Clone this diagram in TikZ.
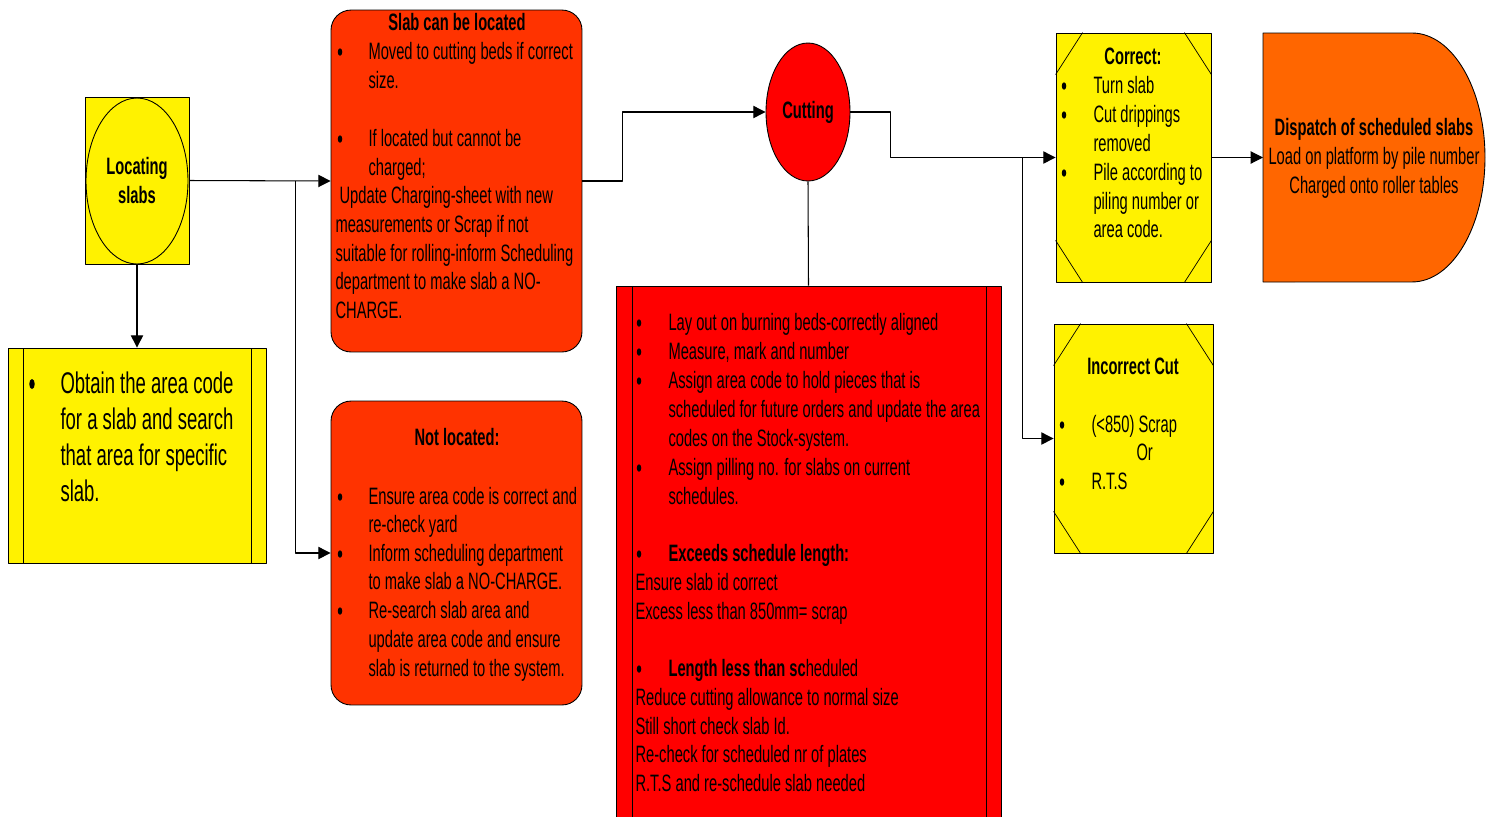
\documentclass[tikz,border=0pt]{standalone}
\usepackage{fontspec}
\setmainfont{Liberation Sans}[FakeStretch=0.62]
\usetikzlibrary{arrows.meta,shapes.geometric}
\newcommand\bodyfs{\fontsize{13.5}{16.5}\selectfont}
\newcommand\bigfs{\fontsize{17}{20.5}\selectfont}
\definecolor{slabred}{HTML}{FF3300}
\definecolor{disporange}{HTML}{FF6600}
\tikzset{
  box/.style={draw, inner sep=0pt, line width=.5pt},
  txt/.style={anchor=mid west, inner sep=0pt, yshift=-0.08cm},
  dot/.style={x radius=0.045cm, y radius=0.075cm},
  ttl/.style={inner sep=0pt, font=\bodyfs\bfseries},
}
\begin{document}
\begin{tikzpicture}[x=0.02cm, y=-0.02cm, font=\bodyfs, line join=round, line width=.6pt, >={Triangle[length=7pt,width=7pt]}]
\useasboundingbox (0,0) rectangle (1501,816);
\clip (0,0) rectangle (1501,816);
% boxes
\node[box, fill=yellow, minimum width=2.08cm, minimum height=3.34cm] (loc) at (137,180.5) {};
\node[box, ellipse, fill=yellow, minimum width=2.04cm, minimum height=3.32cm, font=\bodyfs\bfseries, align=center] (locell) at (137,181) {Locating\\slabs};
\node[box, fill=yellow, minimum width=5.16cm, minimum height=4.3cm] (obtain) at (137,455.5) {};
\draw[line width=.5pt] (23,348) -- (23,563) (251,348) -- (251,563);
\node[box, fill=slabred, rounded corners=0.4cm, minimum width=5.02cm, minimum height=6.84cm] (located) at (456.5,181) {};
\node[box, fill=slabred, rounded corners=0.4cm, minimum width=5.02cm, minimum height=6.08cm] (notloc) at (456.5,553) {};
\node[box, ellipse, fill=red, minimum width=1.68cm, minimum height=2.76cm, font=\bodyfs\bfseries] (cut) at (808,112) {Cutting};
\node[box, fill=red, minimum width=7.7cm, minimum height=10.88cm] (steps) at (808.5,558) {};
\draw[line width=.5pt] (632,286) -- (632,830) (986,286) -- (986,830);
\node[box, fill=yellow, minimum width=3.1cm, minimum height=4.98cm] (correct) at (1133.5,157.5) {};
\node[box, fill=yellow, minimum width=3.18cm, minimum height=4.58cm] (incorrect) at (1133.5,438.5) {};
\foreach \n in {correct,incorrect}
  \draw[line width=.4pt] (\n.north west)++(0,42) -- ++(27,-42) (\n.north east)++(0,42) -- ++(-27,-42)
    (\n.south west)++(0,-42) -- ++(27,42) (\n.south east)++(0,-42) -- ++(-27,42);
\path (1263,33) coordinate (dnw) (1263,282) coordinate (dsw) (1263,157.5) coordinate (dw);
\draw[fill=disporange, line width=.5pt] (dnw) -- ++(149,0) arc[start angle=90, end angle=-90, x radius=1.46cm, y radius=2.49cm] -- (dsw) -- cycle;
% connectors
\draw[->] (loc.south) -- (obtain.north);
\draw[->] (loc.east) -- (located.west);
\path (loc.east) ++(106,0) coordinate (br1);
\draw[->] (br1) |- (notloc.west);
\draw[->] (located.east) -- ++(40,0) |- (cut.west);
\draw (cut.south) -- (steps.north);
\draw[->] (cut.east) -- ++(40,0) |- (correct.west);
\path (correct.west) ++(-33,0) coordinate (br2);
\draw[->] (br2) |- (incorrect.west);
\draw[->] (correct.east) -- (dw);
% bullets
\fill (32,384) ellipse[x radius=0.055cm, y radius=0.1cm];
\foreach \x/\ys in {340/{51,138,496,553,610}, 639/{322,351,380,467,553,668}, 1064/{85,114,172}, 1062/{424,481}}
  \foreach \y in \ys \fill (\x,\y+1) ellipse[dot];
% texts
\foreach \y/\t in {383/Obtain the area code, 419/for a slab and search, 455/that area for specific, 491/slab.}
  \node[txt, font=\bigfs, yshift=-0.04cm] at (60,\y) {\t};
\node[ttl] at (457,22) {Slab can be located};
\foreach \y/\t in {51/Moved to cutting beds if correct, 80/size., 138/If located but cannot be, 167/charged;}
  \node[txt] at (368,\y) {\t};
\foreach \y/\t in {195/{\ Update Charging-sheet with new}, 224/measurements or Scrap if not, 253/suitable for rolling-inform Scheduling, 281/department to make slab a NO-, 310/CHARGE.}
  \node[txt] at (335,\y) {\t};
\node[ttl] at (457,437) {Not located:};
\foreach \y/\t in {496/Ensure area code is correct and, 524/re-check yard, 553/Inform scheduling department, 581/to make slab a NO-CHARGE., 610/Re-search slab area and, 639/update area code and ensure, 668/slab is returned to the system.}
  \node[txt] at (368,\y) {\t};
\foreach \y/\t in {322/Lay out on burning beds-correctly aligned, 351/{Measure, mark and number}, 380/Assign area code to hold pieces that is, 409/scheduled for future orders and update the area, 438/codes on the Stock-system., 467/Assign pilling no. for slabs on current, 496/schedules., 553/\textbf{Exceeds schedule length:}, 668/\textbf{Length less than sc}heduled}
  \node[txt] at (668,\y) {\t};
\foreach \y/\t in {582/Ensure slab id correct, 611/Excess less than 850mm= scrap, 697/Reduce cutting allowance to normal size, 726/Still short check slab Id., 754/Re-check for scheduled nr of plates, 783/R.T.S and re-schedule slab needed}
  \node[txt] at (635,\y) {\t};
\node[ttl] at (1133,56) {Correct:};
\foreach \y/\t in {85/Turn slab, 114/Cut drippings, 143/removed, 172/Pile according to, 201/piling number or, 229/area code.}
  \node[txt] at (1093,\y) {\t};
\node[ttl] at (1133,366) {Incorrect Cut};
\node[txt] at (1091,424) {(<850) Scrap};
\node[txt] at (1136,452) {Or};
\node[txt] at (1091,481) {R.T.S};
\node[ttl] at (1374,129) {Dispatch of scheduled slabs};
\node[inner sep=0pt] at (1374,158) {Load on platform by pile number};
\node[inner sep=0pt] at (1374,187) {Charged onto roller tables};
\end{tikzpicture}
\end{document}
